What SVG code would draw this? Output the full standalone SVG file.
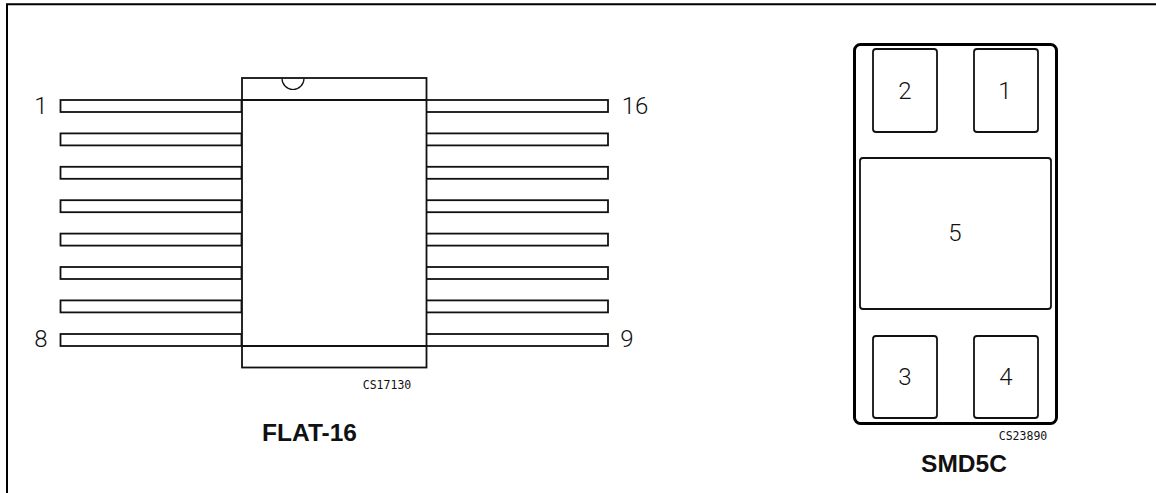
<svg xmlns="http://www.w3.org/2000/svg" width="1156" height="493" viewBox="0 0 1156 493">
<style>
.l{fill:#fff;stroke:#111;stroke-width:1.8}
.t{fill:#111;stroke:none;font-family:"Roboto","Liberation Sans",sans-serif;font-weight:300;font-size:24px;text-anchor:middle}
.c{fill:#111;font-family:"DejaVu Sans Mono",monospace;font-size:11.500px;text-anchor:middle}
.b{fill:#111;font-family:"Liberation Sans",Arial,sans-serif;font-weight:bold;font-size:24.500px;text-anchor:middle}
.f{fill:none;stroke:#111;stroke-width:1.8}
.a{fill:none;stroke:#111;stroke-width:1.200}
</style>
<rect width="1156" height="493" fill="#fff"/>
<path id="frame" d="M7 493V4.200H1156" fill="none" stroke="#000" stroke-width="2"/>
<g id="leads">
<rect class="l" x="60.500" y="100" width="181" height="12"/>
<rect class="l" x="60.500" y="133.400" width="181" height="12"/>
<rect class="l" x="60.500" y="166.800" width="181" height="12"/>
<rect class="l" x="60.500" y="200.200" width="181" height="12"/>
<rect class="l" x="60.500" y="233.600" width="181" height="12"/>
<rect class="l" x="60.500" y="267" width="181" height="12"/>
<rect class="l" x="60.500" y="300.400" width="181" height="12"/>
<rect class="l" x="60.500" y="334" width="181" height="12"/>
<rect class="l" x="426" y="100" width="182" height="12"/>
<rect class="l" x="426" y="133.400" width="182" height="12"/>
<rect class="l" x="426" y="166.800" width="182" height="12"/>
<rect class="l" x="426" y="200.200" width="182" height="12"/>
<rect class="l" x="426" y="233.600" width="182" height="12"/>
<rect class="l" x="426" y="267" width="182" height="12"/>
<rect class="l" x="426" y="300.400" width="182" height="12"/>
<rect class="l" x="426" y="334" width="182" height="12"/>
</g>
<g id="flat16-body">
<rect class="l" x="242" y="78" width="184.500" height="289.500"/>
<path class="f" d="M242 100H426.500M242 346H426.500"/>
<path class="a" d="M282 78.500A11 11 0 0 0 304 78.500"/>
</g>
<g id="flat16-labels">
<text class="t" x="41" y="114">1</text>
<text class="t" x="41" y="347">8</text>
<text class="t" x="635" y="114">16</text>
<text class="t" x="627" y="347">9</text>
<text class="c" x="387" y="389">CS17130</text>
<text class="b" x="309.500" y="441">FLAT-16</text>
</g>
<g id="smd5c">
<rect x="854.500" y="44.500" width="202" height="379" rx="6" fill="#fff" stroke="#000" stroke-width="3"/>
<g id="pad2"><rect class="l" x="873" y="49" width="64" height="83" rx="3"/><text class="t" x="905" y="99">2</text></g>
<g id="pad1"><rect class="l" x="974" y="49" width="64" height="83" rx="3"/><text class="t" x="1005" y="99">1</text></g>
<g id="pad5"><rect class="l" x="860" y="158" width="191" height="151" rx="3"/><text class="t" x="955" y="241">5</text></g>
<g id="pad3"><rect class="l" x="873" y="336" width="64" height="82" rx="3"/><text class="t" x="905" y="385">3</text></g>
<g id="pad4"><rect class="l" x="974" y="336" width="64" height="82" rx="3"/><text class="t" x="1006" y="385">4</text></g>
<text class="c" x="1023" y="440">CS23890</text>
<text class="b" x="964" y="472">SMD5C</text>
</g>
</svg>
